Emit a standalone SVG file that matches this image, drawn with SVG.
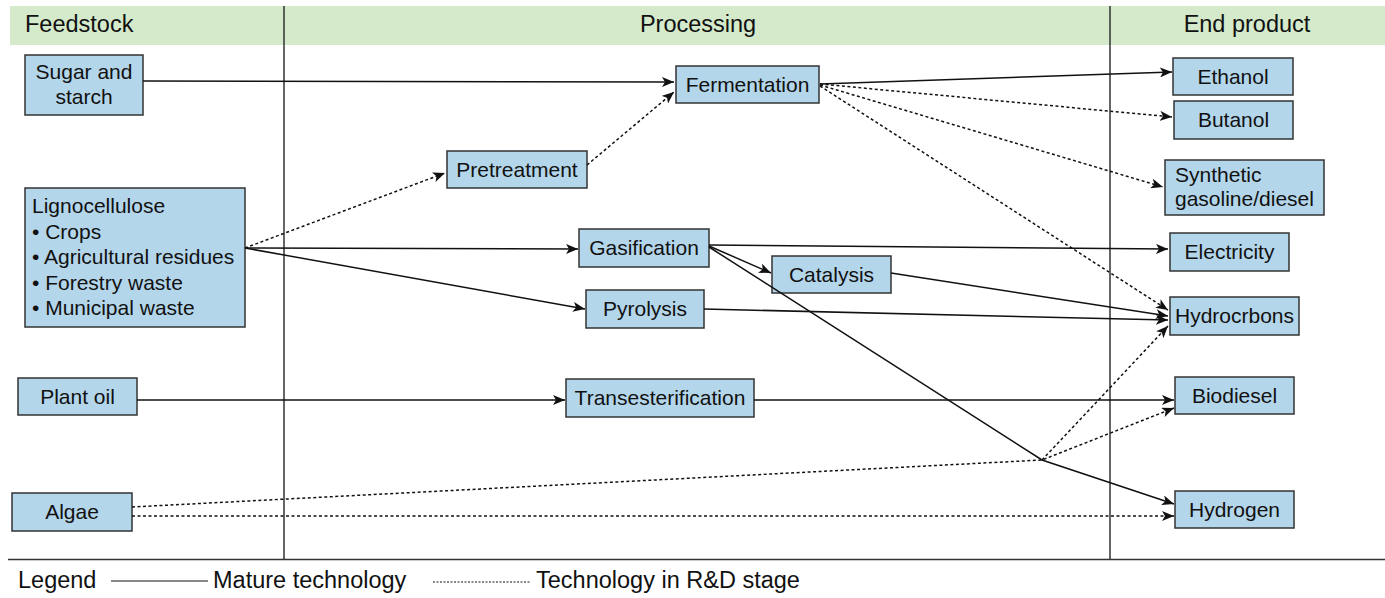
<svg xmlns="http://www.w3.org/2000/svg" width="1385" height="598" viewBox="0 0 1385 598">
<style>
.node rect{fill:#b4d6eb;stroke:#333;stroke-width:1.5}
.node text,.hdr,.leg{font-family:"Liberation Sans",Arial,sans-serif;fill:#111}
.node text{font-size:21px}
.c{text-anchor:middle}
.hdr{font-size:23.5px}
.leg{font-size:23.5px}
.grid{stroke:#333;stroke-width:1.5;fill:none}
#connectors path{fill:none;stroke:#111;stroke-width:1.5}
#connectors path.d{stroke-dasharray:3 2.5}
</style>
<defs>
<marker id="ah" markerUnits="userSpaceOnUse" markerWidth="12" markerHeight="10" viewBox="0 0 12 10" refX="12" refY="5" orient="auto">
<path d="M0,0 L12,5 L0,10 L3,5 z" fill="#111"/>
</marker>
</defs>
<rect x="0" y="0" width="1385" height="598" fill="#fff"/>
<g id="header">
<rect x="10" y="6" width="1375" height="39" fill="#d4eacb"/>
<text class="hdr" x="25" y="32">Feedstock</text>
<text class="hdr c" x="698" y="32">Processing</text>
<text class="hdr c" x="1247" y="32">End product</text>
</g>
<g id="grid">
<line class="grid" x1="284" y1="6" x2="284" y2="560"/>
<line class="grid" x1="1110" y1="6" x2="1110" y2="560"/>
<line class="grid" x1="8" y1="559.5" x2="1385" y2="559.5"/>
</g>
<g id="sugar" class="node"><rect x="25" y="55" width="118" height="60"/><text class="c" x="84" y="79">Sugar and</text><text class="c" x="84" y="104">starch</text></g>
<g id="ligno" class="node"><rect x="25" y="188" width="220" height="139"/>
<text x="32" y="213">Lignocellulose</text>
<text x="32" y="238.5">• Crops</text>
<text x="32" y="264">• Agricultural residues</text>
<text x="32" y="289.5">• Forestry waste</text>
<text x="32" y="315">• Municipal waste</text></g>
<g id="plantoil" class="node"><rect x="18" y="378" width="119" height="37"/><text class="c" x="77.5" y="403.5">Plant oil</text></g>
<g id="algae" class="node"><rect x="12" y="493" width="120" height="38"/><text class="c" x="72" y="519">Algae</text></g>
<g id="pretreatment" class="node"><rect x="447" y="151" width="140" height="37"/><text class="c" x="517" y="177">Pretreatment</text></g>
<g id="fermentation" class="node"><rect x="676" y="66" width="143" height="37"/><text class="c" x="747.5" y="92">Fermentation</text></g>
<g id="gasification" class="node"><rect x="579" y="229" width="130" height="38"/><text class="c" x="644" y="255">Gasification</text></g>
<g id="catalysis" class="node"><rect x="772" y="256" width="119" height="37"/><text class="c" x="831.5" y="282">Catalysis</text></g>
<g id="pyrolysis" class="node"><rect x="586" y="290" width="118" height="38"/><text class="c" x="645" y="316">Pyrolysis</text></g>
<g id="transesterification" class="node"><rect x="566" y="379" width="188" height="38"/><text class="c" x="660" y="405">Transesterification</text></g>
<g id="ethanol" class="node"><rect x="1173" y="58" width="120" height="37"/><text class="c" x="1233" y="84">Ethanol</text></g>
<g id="butanol" class="node"><rect x="1174" y="101" width="119" height="38"/><text class="c" x="1233.5" y="127">Butanol</text></g>
<g id="synthetic" class="node"><rect x="1165" y="160" width="159" height="55"/><text x="1175" y="182">Synthetic</text><text x="1175" y="206">gasoline/diesel</text></g>
<g id="electricity" class="node"><rect x="1170" y="233" width="119" height="38"/><text class="c" x="1229.5" y="259">Electricity</text></g>
<g id="hydrocarbons" class="node"><rect x="1170" y="297" width="129" height="38"/><text class="c" x="1234.5" y="323">Hydrocrbons</text></g>
<g id="biodiesel" class="node"><rect x="1175" y="377" width="119" height="37"/><text class="c" x="1234.5" y="403">Biodiesel</text></g>
<g id="hydrogen" class="node"><rect x="1175" y="491" width="119" height="37"/><text class="c" x="1234.5" y="517">Hydrogen</text></g>
<g id="connectors">
<path d="M143,81 L674,82" marker-end="url(#ah)"/>
<path class="d" d="M245,248 L445,173" marker-end="url(#ah)"/>
<path d="M245,248 L578,249" marker-end="url(#ah)"/>
<path d="M245,248 L585,309" marker-end="url(#ah)"/>
<path class="d" d="M587,165 L674,92" marker-end="url(#ah)"/>
<path d="M820,84 L1172,72" marker-end="url(#ah)"/>
<path class="d" d="M820,84 L1172,117" marker-end="url(#ah)"/>
<path class="d" d="M820,85 L1163,187" marker-end="url(#ah)"/>
<path class="d" d="M820,86 L1168,310" marker-end="url(#ah)"/>
<path d="M709,245 L1168,249" marker-end="url(#ah)"/>
<path d="M709,246 L771,273" marker-end="url(#ah)"/>
<path d="M709,247 L1042,460 L1174,504" marker-end="url(#ah)"/>
<path d="M891,273 L1168,316" marker-end="url(#ah)"/>
<path d="M704,309 L1168,320" marker-end="url(#ah)"/>
<path d="M137,400 L565,400" marker-end="url(#ah)"/>
<path d="M754,400 L1174,400" marker-end="url(#ah)"/>
<path class="d" d="M132,516 L1174,516" marker-end="url(#ah)"/>
<path class="d" d="M132,507 L1042,460 L1174,408" marker-end="url(#ah)"/>
<path class="d" d="M1042,460 L1168,326" marker-end="url(#ah)"/>
</g>
<g id="legend">
<text class="leg" x="18" y="588">Legend</text>
<line x1="111" y1="581" x2="208" y2="581" stroke="#111" stroke-width="1"/>
<text class="leg" x="213" y="588">Mature technology</text>
<line x1="433" y1="582" x2="531" y2="582" stroke="#111" stroke-width="1" stroke-dasharray="2 1.5"/>
<text class="leg" x="536" y="588">Technology in R&amp;D stage</text>
</g>
</svg>
